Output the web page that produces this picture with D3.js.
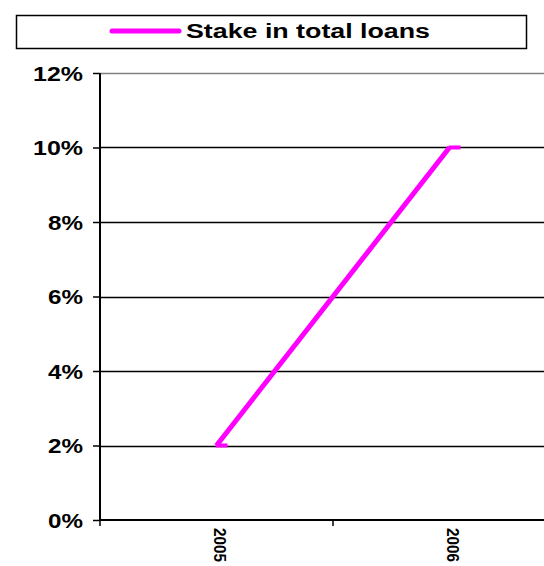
<!DOCTYPE html>
<html>
<head>
<meta charset="utf-8">
<script src="https://cdn.jsdelivr.net/npm/d3@7"></script>
<style>
  html, body { margin: 0; padding: 0; background: #fff; }
  svg { display: block; font-family: "Liberation Sans", Arial, sans-serif; }
</style>
</head>
<body>
<svg id="chart" width="544" height="566"></svg>
<script>
// Chart data
const years = ["2005", "2006"];
const stake = [0.02, 0.10];
const yTicks = [0, 0.02, 0.04, 0.06, 0.08, 0.10, 0.12];
const seriesName = "Stake in total loans";

const svg = d3.select("#chart");
const W = 544, H = 566;
const plot = { left: 100, right: 566, top: 73, bottom: 520 };
const lineColor = "#ff00ff";

const x = d3.scaleBand().domain(years).range([plot.left, plot.right]);
const y = d3.scaleLinear().domain([0, 0.12]).range([plot.bottom, plot.top]);

// Legend box
svg.append("rect")
  .attr("x", 16.5).attr("y", 15.5).attr("width", 510).attr("height", 33)
  .attr("fill", "#fff").attr("stroke", "#000").attr("stroke-width", 1.5);
svg.append("line")
  .attr("x1", 112).attr("x2", 179).attr("y1", 31).attr("y2", 31)
  .attr("stroke", lineColor).attr("stroke-width", 5).attr("stroke-linecap", "round");
svg.append("text")
  .attr("x", 186).attr("y", 38)
  .attr("font-size", 20).attr("font-weight", "bold").attr("fill", "#000")
  .attr("textLength", 244).attr("lengthAdjust", "spacingAndGlyphs")
  .text(seriesName);

// Horizontal gridlines
svg.append("g").selectAll("line").data(yTicks.filter(d => d > 0)).join("line")
  .attr("x1", plot.left).attr("x2", W)
  .attr("y1", d => Math.round(y(d)) + 0.5).attr("y2", d => Math.round(y(d)) + 0.5)
  .attr("stroke", d => d === 0.12 ? "#808080" : "#000")
  .attr("stroke-width", 1.6);

// Y axis
const yAxis = d3.axisLeft(y).tickValues(yTicks).tickFormat(d3.format(".0%")).tickSize(7).tickPadding(10);
const gy = svg.append("g").attr("transform", `translate(${plot.left},0)`).call(yAxis);
gy.select(".domain").remove();
gy.append("line").attr("x1", 0).attr("x2", 0).attr("y1", plot.top).attr("y2", plot.bottom)
  .attr("stroke", "#000").attr("stroke-width", 2);
gy.selectAll(".tick line").attr("stroke", "#000").attr("stroke-width", 1.5);
gy.selectAll(".tick text")
  .attr("font-family", "Liberation Sans, Arial, sans-serif")
  .attr("font-size", 20).attr("font-weight", "bold").attr("fill", "#000")
  .attr("dy", "0.36em")
  .each(function () {
    const t = d3.select(this);
    t.attr("textLength", t.text().length === 3 ? 50 : 35).attr("lengthAdjust", "spacingAndGlyphs");
  });

// X axis
const gx = svg.append("g").attr("transform", `translate(0,${plot.bottom})`);
gx.append("line").attr("x1", plot.left).attr("x2", W).attr("y1", 0).attr("y2", 0)
  .attr("stroke", "#000").attr("stroke-width", 2);
const bounds = years.map(d => x(d)).concat([plot.right]);
gx.selectAll("line.tk").data(bounds).join("line").attr("class", "tk")
  .attr("x1", d => d).attr("x2", d => d).attr("y1", 0).attr("y2", 6)
  .attr("stroke", "#000").attr("stroke-width", 1.5);
gx.selectAll("text").data(years).join("text")
  .attr("transform", d => `translate(${x(d) + x.bandwidth() / 2 - 2.5},${8}) rotate(90)`)
  .attr("font-size", 17).attr("font-weight", "bold").attr("fill", "#000")
  .attr("textLength", 34).attr("lengthAdjust", "spacingAndGlyphs")
  .text(d => d);

// Series line
const pts = years.map((d, i) => [x(d) + x.bandwidth() / 2, y(stake[i])]);
svg.append("path")
  .attr("d", d3.line()(pts))
  .attr("fill", "none").attr("stroke", lineColor).attr("stroke-width", 5);
// Dash markers at each point
svg.append("g").selectAll("line").data(pts).join("line")
  .attr("x1", d => d[0] - 1).attr("x2", d => d[0] + 11)
  .attr("y1", d => d[1]).attr("y2", d => d[1])
  .attr("stroke", lineColor).attr("stroke-width", 4);
</script>
</body>
</html>
